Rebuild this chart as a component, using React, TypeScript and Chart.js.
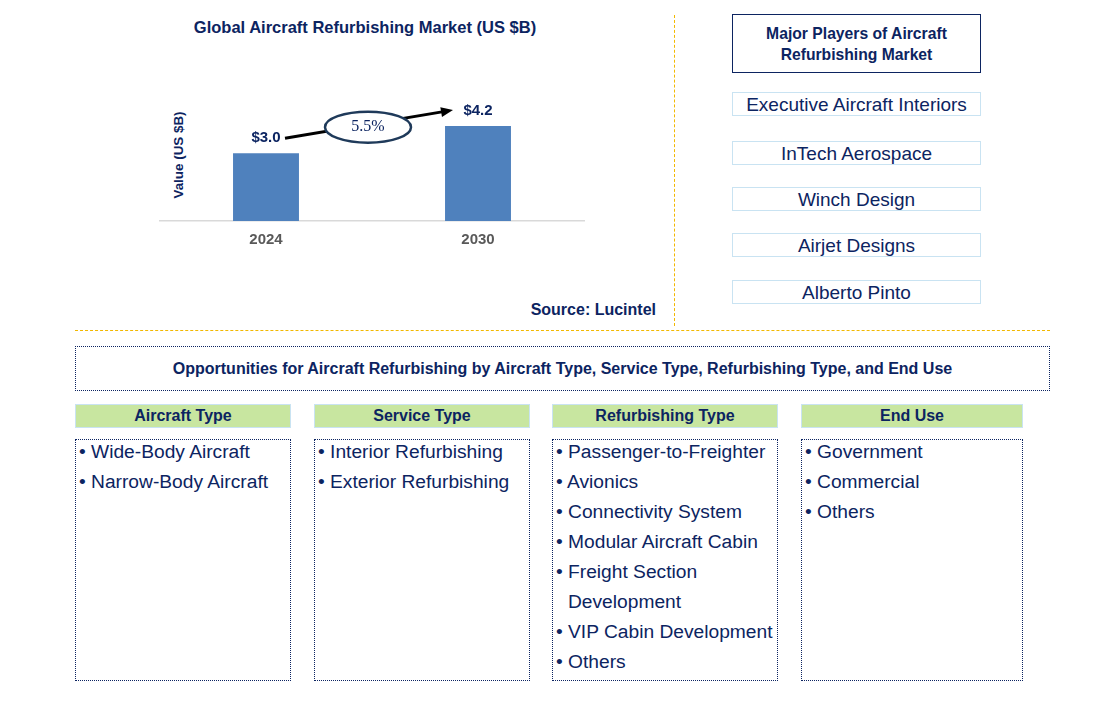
import React, { useEffect, useRef } from "react";
import { Chart, registerables } from "chart.js";

Chart.register(...registerables);

const categories = ["2024", "2030"];
const marketValues = [3.0, 4.2];
const valueLabels = ["$3.0", "$4.2"];
const cagrLabel = "5.5%";

const players = [
  "Executive Aircraft Interiors",
  "InTech Aerospace",
  "Winch Design",
  "Airjet Designs",
  "Alberto Pinto",
];

const segmentTitles = ["Aircraft Type", "Service Type", "Refurbishing Type", "End Use"];
const aircraftTypes = ["Wide-Body Aircraft", "Narrow-Body Aircraft"];
const serviceTypes = ["Interior Refurbishing", "Exterior Refurbishing"];
const refurbishingTypes = [
  "Passenger-to-Freighter",
  "Avionics",
  "Connectivity System",
  "Modular Aircraft Cabin",
  "Freight Section Development",
  "VIP Cabin Development",
  "Others",
];
const endUses = ["Government", "Commercial", "Others"];

const NAVY = "#0c2461";
const FONT = "'Liberation Sans', Arial, sans-serif";

const labelPlugin = {
  id: "labelsArrow",
  afterDatasetsDraw(chart: any) {
    const ctx = chart.ctx;
    const meta = chart.getDatasetMeta(0);
    const bars = meta.data;
    ctx.save();
    ctx.font = `bold 15px ${FONT}`;
    ctx.fillStyle = NAVY;
    ctx.textAlign = "center";
    ctx.textBaseline = "middle";
    bars.forEach((b: any, i: number) => {
      ctx.fillText(valueLabels[i], b.x, b.y - 15);
    });
    // arrow
    const x1 = bars[0].x + 19;
    const y1 = bars[0].y - 15;
    const x2 = bars[1].x - 25;
    const y2 = bars[1].y - 16;
    ctx.strokeStyle = "#000";
    ctx.lineWidth = 3;
    ctx.beginPath();
    ctx.moveTo(x1, y1);
    ctx.lineTo(x2 - 8, y2 + 1.3);
    ctx.stroke();
    const ang = Math.atan2(y2 - y1, x2 - x1);
    ctx.fillStyle = "#000";
    ctx.beginPath();
    ctx.moveTo(x2, y2);
    ctx.lineTo(x2 - 12 * Math.cos(ang) + 5 * Math.sin(ang), y2 - 12 * Math.sin(ang) - 5 * Math.cos(ang));
    ctx.lineTo(x2 - 12 * Math.cos(ang) - 5 * Math.sin(ang), y2 - 12 * Math.sin(ang) + 5 * Math.cos(ang));
    ctx.closePath();
    ctx.fill();
    // ellipse
    const cx = (x1 + x2) / 2 - 1;
    const cy = (y1 + y2) / 2 + 3;
    ctx.beginPath();
    ctx.ellipse(cx, cy, 43, 15.5, 0, 0, Math.PI * 2);
    ctx.fillStyle = "#fff";
    ctx.fill();
    ctx.lineWidth = 2.5;
    ctx.strokeStyle = "#1f3a5a";
    ctx.stroke();
    ctx.fillStyle = NAVY;
    ctx.font = `16px 'Liberation Serif', 'Times New Roman', serif`;
    ctx.fillText(cagrLabel, cx, cy);
    ctx.restore();
  },
};

function BarChart() {
  const ref = useRef<HTMLCanvasElement | null>(null);
  useEffect(() => {
    if (!ref.current) return;
    const chart = new Chart(ref.current, {
      type: "bar",
      data: {
        labels: categories,
        datasets: [
          {
            data: marketValues,
            backgroundColor: "#4f81bd",
            barPercentage: 0.311,
            categoryPercentage: 1,
          },
        ],
      },
      options: {
        animation: false,
        responsive: false,
        maintainAspectRatio: false,
        layout: { padding: { left: 10, right: 16, top: 18, bottom: 14 } },
        plugins: { legend: { display: false }, tooltip: { enabled: false }, title: { display: false } },
        scales: {
          x: {
            grid: { display: false },
            border: { display: true, color: "#d9d9d9", width: 1.5 },
            ticks: { color: "#595959", font: { family: FONT, size: 15, weight: "bold" }, padding: 2 },
          },
          y: { display: false, min: 0, max: 5 },
        },
      },
      plugins: [labelPlugin],
    });
    return () => chart.destroy();
  }, []);
  return (
    <canvas
      ref={ref}
      width={450}
      height={175}
      style={{ position: "absolute", left: 150, top: 90, width: 450, height: 175 }}
    />
  );
}

const abs = (l: number, t: number, w: number, h: number): React.CSSProperties => ({
  position: "absolute",
  left: l,
  top: t,
  width: w,
  height: h,
  boxSizing: "border-box",
});

const colX = [75, 314, 552, 801];
const colW = [216, 216, 226, 222];
const lists = [aircraftTypes, serviceTypes, refurbishingTypes, endUses];

export default function App() {
  return (
    <div
      style={{
        position: "absolute",
        left: 0,
        top: 0,
        width: 1114,
        height: 713,
        background: "#fff",
        fontFamily: FONT,
        color: NAVY,
        overflow: "hidden",
      }}
    >
      <div
        style={{
          ...abs(140, 16, 450, 22),
          textAlign: "center",
          fontWeight: "bold",
          fontSize: 16.5,
          lineHeight: "22px",
        }}
      >
        Global Aircraft Refurbishing Market (US $B)
      </div>
      <div
        style={{
          position: "absolute",
          left: 178,
          top: 155,
          transform: "translate(-50%, -50%) rotate(-90deg)",
          whiteSpace: "nowrap",
          fontWeight: "bold",
          fontSize: 13.4,
        }}
      >
        Value (US $B)
      </div>
      <BarChart />
      <div
        style={{
          ...abs(430, 299, 226, 22),
          textAlign: "right",
          fontWeight: "bold",
          fontSize: 16,
          lineHeight: "22px",
        }}
      >
        Source: Lucintel
      </div>
      {/* separators */}
      <div style={{ ...abs(674, 15, 0, 311), borderLeft: "1px dashed #f2b800" }} />
      <div style={{ ...abs(75, 330, 975, 0), borderTop: "1px dashed #f2b800" }} />

      {/* players */}
      <div
        style={{
          ...abs(732, 14, 249, 59),
          border: `1px solid ${NAVY}`,
          display: "flex",
          alignItems: "center",
          justifyContent: "center",
          textAlign: "center",
          fontWeight: "bold",
          fontSize: 15.7,
          lineHeight: "21px",
        }}
      >
        Major Players of Aircraft
        <br />
        Refurbishing Market
      </div>
      {players.map((p, i) => (
        <div
          key={p}
          style={{
            ...abs(732, [92, 141, 187, 233, 280][i], 249, 24),
            border: "1px solid #c9e3f2",
            textAlign: "center",
            fontSize: 19,
            lineHeight: "23px",
          }}
        >
          {p}
        </div>
      ))}

      {/* opportunities */}
      <div
        style={{
          ...abs(75, 346, 975, 45),
          border: `1px dotted ${NAVY}`,
          display: "flex",
          alignItems: "center",
          justifyContent: "center",
          fontWeight: "bold",
          fontSize: 16,
        }}
      >
        Opportunities for Aircraft Refurbishing by Aircraft Type, Service Type, Refurbishing Type, and End Use
      </div>
      {segmentTitles.map((t, i) => (
        <div
          key={t}
          style={{
            ...abs(colX[i], 404, colW[i], 24),
            background: "#c8e6a0",
            border: "1px solid #c9e3f2",
            textAlign: "center",
            fontWeight: "bold",
            fontSize: 16,
            lineHeight: "22px",
          }}
        >
          {t}
        </div>
      ))}
      {lists.map((items, i) => (
        <div
          key={i}
          style={{
            ...abs(colX[i], 439, colW[i], 242),
            border: `1px dotted ${NAVY}`,
          }}
        >
          <div style={{ position: "absolute", left: 3, top: -3, right: 0 }}>
            {items.map((it) => (
              <div
                key={it}
                style={{
                  fontSize: 19.2,
                  lineHeight: "30px",
                  paddingLeft: 12,
                  textIndent: -12,
                  whiteSpace: "normal",
                }}
              >
                {"\u2022 "}
                {it}
              </div>
            ))}
          </div>
        </div>
      ))}
    </div>
  );
}
